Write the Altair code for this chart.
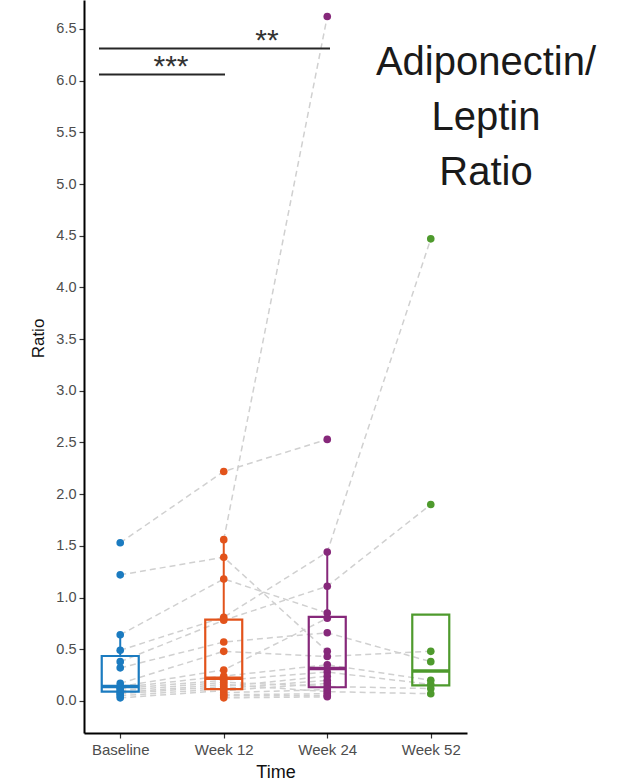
import altair as alt
import pandas as pd

# Paired adiponectin/leptin ratios per participant (None = not measured)
times = ["Baseline", "Week 12", "Week 24", "Week 52"]
subject_ids = list(range(1, 21))
baseline = [1.53, 1.22, 0.64, None, 0.49, 0.38, 0.32, 0.17, 0.14, 0.13,
            0.12, 0.10, 0.08, 0.07, 0.05, 0.03, None, None, None, None]
week12 = [2.22, 1.39, 1.18, 1.56, 0.81, 0.78, 0.57, 0.48, 0.30, 0.24,
          0.20, 0.18, 0.16, 0.14, 0.12, 0.10, 0.08, 0.06, 0.05, 0.03]
week24 = [2.53, 0.48, 0.85, 6.62, 1.44, 1.11, 0.66, 0.43, 0.80, 0.35,
          0.28, 0.14, 0.09, 0.24, 0.20, 0.17, 0.11, 0.07, 0.05, 0.04]
week52 = [None, None, None, None, 4.47, 1.90, 0.38, 0.48, None, 0.20,
          0.16, 0.12, 0.07, None, None, None, None, None, None, None]

group_colors = ["#1B7BC0", "#E2531B", "#86287A", "#4E9A2D"]
y_ticks = [0.0, 0.5, 1.0, 1.5, 2.0, 2.5, 3.0, 3.5, 4.0, 4.5, 5.0, 5.5, 6.0, 6.5]

rows = []
for sid, b, w12, w24, w52 in zip(subject_ids, baseline, week12, week24, week52):
    for t, v in zip(times, [b, w12, w24, w52]):
        if v is not None:
            rows.append({"subject": sid, "time": t, "ratio": v})
df = pd.DataFrame(rows)

x_enc = alt.X(
    "time:N",
    scale=alt.Scale(type="point", domain=times, padding=0.35),
    axis=alt.Axis(title="Time", labelAngle=0, grid=False, titleFontSize=18,
                  titleFontWeight="normal", titleColor="#111111",
                  titleY=39, titleBaseline="middle", labelFontSize=15, labelColor="#4D4D4D",
                  tickSize=5, labelPadding=4, domainWidth=2, domainColor="#000000",
                  tickColor="#333333", tickWidth=1.2),
)
y_scale = alt.Scale(domain=[-0.31, 6.78], nice=False, zero=False)
y_enc = alt.Y(
    "ratio:Q",
    scale=y_scale,
    axis=alt.Axis(title="Ratio", values=y_ticks, format=".1f", grid=False, titleFontSize=17,
                  titleColor="#111111", titleFontWeight="normal", titleX=-46, titleY=338,
                  titleAlign="center", titleBaseline="middle", labelFontSize=14.5,
                  labelColor="#4D4D4D", tickSize=5, labelPadding=3, domainWidth=2,
                  domainColor="#000000", tickColor="#333333", tickWidth=1.2),
)
color_enc = alt.Color("time:N", scale=alt.Scale(domain=times, range=group_colors), legend=None)

base = alt.Chart(df)

# Dashed connectors for each participant
lines = base.mark_line(color="#D0D0D0", strokeDash=[6, 4], strokeWidth=1.5).encode(
    x=x_enc, y=y_enc, detail="subject:N", order="time:N"
)

# Tukey box statistics per time point (whiskers never fall inside the hinges)
stats = (
    base.transform_joinaggregate(
        q1="q1(ratio)", q3="q3(ratio)", med="median(ratio)", groupby=["time"]
    )
    .transform_calculate(
        lo="datum.q1 - 1.5 * (datum.q3 - datum.q1)",
        hi="datum.q3 + 1.5 * (datum.q3 - datum.q1)",
    )
    .transform_filter("datum.ratio >= datum.lo && datum.ratio <= datum.hi")
    .transform_aggregate(
        q1="min(q1)", q3="min(q3)", med="min(med)", wlo="min(ratio)", whi="max(ratio)",
        groupby=["time"],
    )
    .transform_calculate(
        wlo="min(datum.wlo, datum.q1)",
        whi="max(datum.whi, datum.q3)",
    )
)

whisk_hi = stats.mark_rule(strokeWidth=2).encode(
    x="time:N", y=alt.Y("q3:Q", scale=y_scale), y2="whi:Q", color=color_enc
)
whisk_lo = stats.mark_rule(strokeWidth=2).encode(
    x="time:N", y=alt.Y("q1:Q", scale=y_scale), y2="wlo:Q", color=color_enc
)
boxes = stats.mark_bar(filled=False, size=37, strokeWidth=2.2).encode(
    x="time:N", y=alt.Y("q1:Q", scale=y_scale), y2="q3:Q", color=color_enc
)
medians = stats.mark_tick(orient="horizontal", size=37, thickness=3.5, opacity=1).encode(
    x="time:N", y=alt.Y("med:Q", scale=y_scale), color=color_enc
)

points = base.mark_circle(size=58, opacity=1).encode(x=x_enc, y=y_enc, color=color_enc)

# Significance brackets
sig_bar1 = alt.Chart().mark_rule(color="#262626", strokeWidth=2).encode(
    x=alt.value(15), x2=alt.value(141), y=alt.datum(6.06)
)
sig_bar2 = alt.Chart().mark_rule(color="#262626", strokeWidth=2).encode(
    x=alt.value(15), x2=alt.value(246), y=alt.datum(6.31)
)
sig_txt1 = alt.Chart().mark_text(
    text="***", fontSize=30, color="#333333", align="center", baseline="alphabetic", dy=2
).encode(x=alt.value(87), y=alt.datum(6.06))
sig_txt2 = alt.Chart().mark_text(
    text="**", fontSize=30, color="#333333", align="center", baseline="alphabetic", dy=1
).encode(x=alt.value(183), y=alt.datum(6.31))

heading = alt.Chart().mark_text(
    text=["Adiponectin/", "Leptin", "Ratio"], fontSize=40, lineHeight=55,
    color="#1A1A1A", align="center", baseline="top"
).encode(x=alt.value(402), y=alt.value(43))

chart = (
    alt.layer(lines, whisk_hi, whisk_lo, boxes, medians, points,
              sig_bar1, sig_bar2, sig_txt1, sig_txt2, heading)
    .properties(
        width=383, height=733,
        autosize=alt.AutoSizeParams(type="none"),
        padding={"left": 84, "top": 0, "right": 157, "bottom": 51},
        background="white",
    )
    .configure(font="Liberation Sans")
    .configure_view(stroke=None)
    .configure_axis(grid=False)
)

chart.save("out.html", embed_options={"renderer": "svg", "actions": False})
